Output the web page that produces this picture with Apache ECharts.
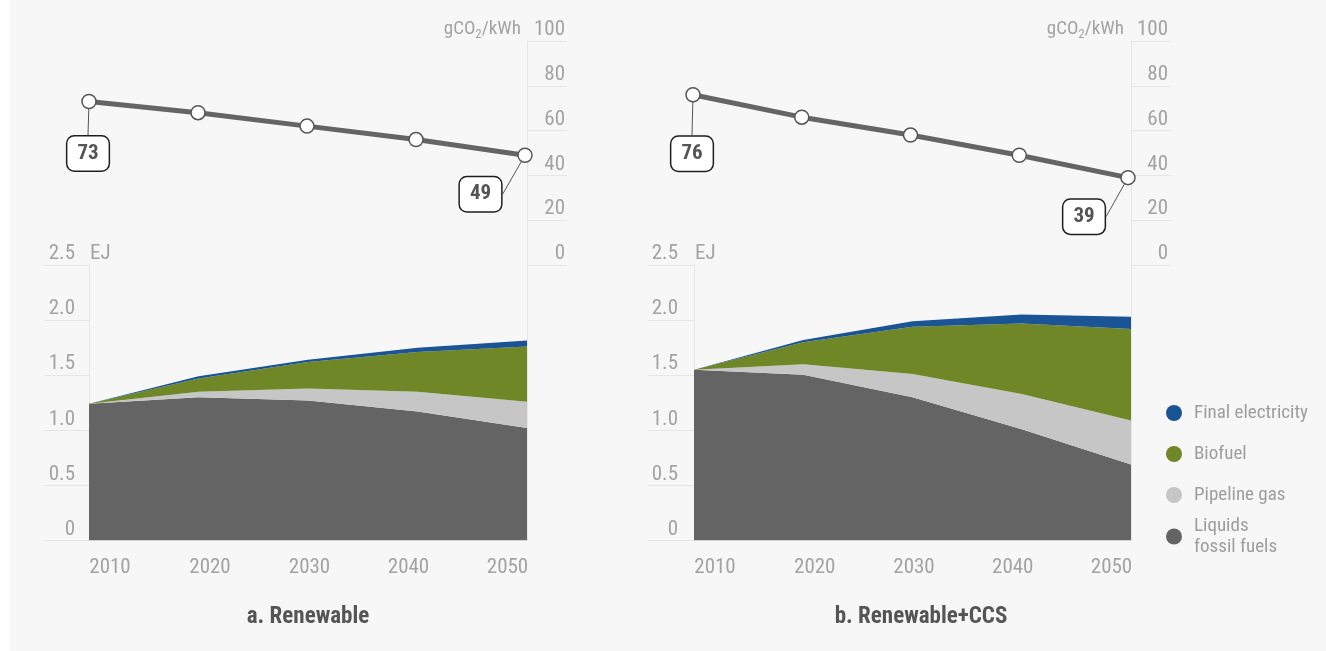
<!DOCTYPE html>
<html>
<head>
<meta charset="utf-8">
<script src="https://cdn.jsdelivr.net/npm/echarts@6/dist/echarts.min.js"></script>
<style>
html,body{margin:0;padding:0;background:#ffffff;}
#c{position:absolute;left:10px;top:0;width:1316px;height:651px;background:#f7f7f7;}
</style>
</head>
<body>
<div id="c"></div>
<script>
// ---------- data ----------
const years = ['2010', '2020', '2030', '2040', '2050'];
const panelTitles = ['a. Renewable', 'b. Renewable+CCS'];
const seriesNames = ['Final electricity', 'Biofuel', 'Pipeline gas', 'Liquids\nfossil fuels'];

// carbon intensity, gCO2/kWh
const intensityRenewable = [73, 68, 62, 56, 49];
const intensityCCS = [76, 66, 58, 49, 39];

// energy, EJ (stacked)
const liquidsRenewable = [1.24, 1.30, 1.27, 1.17, 1.02];
const pipelineRenewable = [0, 0.05, 0.11, 0.18, 0.24];
const biofuelRenewable = [0, 0.12, 0.24, 0.36, 0.50];
const electricityRenewable = [0, 0.02, 0.02, 0.04, 0.055];

const liquidsCCS = [1.55, 1.505, 1.30, 1.01, 0.69];
const pipelineCCS = [0, 0.095, 0.21, 0.32, 0.40];
const biofuelCCS = [0, 0.20, 0.43, 0.64, 0.83];
const electricityCCS = [0, 0.02, 0.05, 0.08, 0.11];

// ---------- styles ----------
const FONT = "'Roboto Condensed','Liberation Sans Narrow','Arial Narrow','DejaVu Sans Condensed',sans-serif";
const LABEL_COLOR = '#a3a3a3';
const RULE_COLOR = '#e6e6e6';
const COLORS = {
  'Final electricity': '#1b5494',
  'Biofuel': '#6f8726',
  'Pipeline gas': '#c6c6c6',
  'Liquids\nfossil fuels': '#646464'
};

const chart = echarts.init(document.getElementById('c'), null, {renderer: 'canvas'});

const xShifts = [21, 11.5, 1.5, -9, -19.5];
const xRich = {};
xShifts.forEach((s, i) => {
  xRich['t' + i] = {
    fontFamily: FONT, fontSize: 21, color: LABEL_COLOR, lineHeight: 21,
    padding: s >= 0 ? [0, 0, 0, 2 * s] : [0, -2 * s, 0, 0]
  };
});

function topAxes(gridIndex, offset, margin) {
  return {
    x: {
      type: 'category', gridIndex, data: years, boundaryGap: false, show: false
    },
    y: {
      type: 'value', gridIndex, position: 'right', offset, min: 0, max: 100, interval: 20,
      name: '{a|gCO}{s|2}{a|/kWh}', nameLocation: 'end', nameGap: 12,
      nameTextStyle: {
        align: 'right', verticalAlign: 'middle', padding: [0, 4 + offset, 0, 0],
        rich: {
          a: {fontFamily: FONT, fontSize: 19, color: LABEL_COLOR},
          s: {fontFamily: FONT, fontSize: 13, color: LABEL_COLOR, verticalAlign: 'bottom', padding: [12, 0, 0, 0]}
        }
      },
      axisLine: {show: true, lineStyle: {color: RULE_COLOR, width: 1}},
      axisTick: {show: true, length: 40, inside: false, lineStyle: {color: RULE_COLOR, width: 1}},
      splitLine: {show: false},
      axisLabel: {
        align: 'right', margin: margin, verticalAlign: 'bottom', padding: [0, 0, 1, 0],
        lineHeight: 20, fontFamily: FONT, fontSize: 21, color: LABEL_COLOR
      }
    }
  };
}

function bottomAxes(gridIndex, tickLen, margin) {
  return {
    x: {
      type: 'category', gridIndex, data: years, boundaryGap: false,
      axisLine: {show: false}, axisTick: {show: false}, splitLine: {show: false},
      axisLabel: {
        margin: 17, formatter: (v, i) => '{t' + i + '|' + v + '}', rich: xRich,
        fontFamily: FONT, fontSize: 21, color: LABEL_COLOR
      }
    },
    y: {
      type: 'value', gridIndex, position: 'left', min: 0, max: 2.5, interval: 0.5,
      name: 'EJ', nameLocation: 'end', nameGap: 11,
      nameTextStyle: {align: 'left', verticalAlign: 'middle', padding: [0, 0, 0, 1], fontFamily: FONT, fontSize: 21, color: LABEL_COLOR},
      axisLine: {show: true, lineStyle: {color: RULE_COLOR, width: 1}},
      axisTick: {show: true, length: tickLen, inside: false, lineStyle: {color: RULE_COLOR, width: 1}},
      splitLine: {show: false},
      axisLabel: {
        margin: margin, verticalAlign: 'bottom', padding: [0, 0, 1, 0], lineHeight: 20,
        fontFamily: FONT, fontSize: 21, color: LABEL_COLOR,
        formatter: v => (v === 0 ? '0' : v.toFixed(1))
      }
    },
    yr: {
      type: 'value', gridIndex, position: 'right', min: 0, max: 2.5, interval: 0.5,
      axisLine: {show: true, lineStyle: {color: RULE_COLOR, width: 1}},
      axisTick: {show: false}, axisLabel: {show: false}, splitLine: {show: false}
    }
  };
}

const tl = topAxes(0, 2, 38);
const bl = bottomAxes(1, 45, 14);
const tr = topAxes(2, 3, 37);
const br = bottomAxes(3, 46, 16);

function intensitySeries(values, xi, yi, firstOffset, lastOffset) {
  const n = values.length;
  return {
    type: 'line', xAxisIndex: xi, yAxisIndex: yi, silent: true, z: 5,
    data: values.map((v, i) => {
      const edge = i === 0 || i === n - 1;
      return {value: v, label: {show: edge}, labelLine: {show: edge}};
    }),
    lineStyle: {color: '#656565', width: 5},
    symbol: 'circle', symbolSize: 14,
    itemStyle: {color: '#ffffff', borderColor: '#555555', borderWidth: 1.5},
    label: {
      position: 'inside', fontFamily: FONT, fontWeight: 'bold', fontSize: 21,
      color: '#555555', backgroundColor: '#ffffff', borderColor: '#1e1e1e', borderWidth: 1.5,
      borderRadius: 7, padding: [7, 10, 6, 10], lineHeight: 21
    },
    labelLine: {show: true, length2: 0, lineStyle: {color: '#555555', width: 1}},
    labelLayout: p => (p.dataIndex === 0 ? firstOffset : lastOffset)
  };
}

function areaSeries(name, values, xi, yi, stack) {
  return {
    type: 'line', name, xAxisIndex: xi, yAxisIndex: yi, stack, silent: true,
    data: values, symbol: 'none', showSymbol: false,
    lineStyle: {width: 0}, itemStyle: {color: COLORS[name]},
    areaStyle: {color: COLORS[name], opacity: 1}
  };
}

const titleStyle = {fontFamily: FONT, fontWeight: 'bold', fontSize: 23, color: '#555555', lineHeight: 24};

const option = {
  animation: false,
  backgroundColor: '#f7f7f7',
  title: [
    {text: panelTitles[0], left: 298, top: 605, textAlign: 'center', padding: 0, textStyle: titleStyle},
    {text: panelTitles[1], left: 911, top: 605, textAlign: 'center', padding: 0, textStyle: titleStyle}
  ],
  legend: [
    {
      data: seriesNames.slice(0, 3), orient: 'vertical', left: 1156, top: 402.5,
      itemGap: 20, itemWidth: 16, itemHeight: 16, icon: 'circle', padding: 0,
      selectedMode: false,
      textStyle: {fontFamily: FONT, fontSize: 19, color: '#9d9d9d', lineHeight: 21, padding: [0, 0, 0, 7]}
    },
    {
      data: seriesNames.slice(3), orient: 'vertical', left: 1156, top: 515.5,
      itemGap: 20, itemWidth: 16, itemHeight: 16, icon: 'circle', padding: 0,
      selectedMode: false,
      textStyle: {fontFamily: FONT, fontSize: 19, color: '#9d9d9d', lineHeight: 21, padding: [0, 0, 0, 7]}
    }
  ],
  grid: [
    {left: 79, top: 41, width: 436, height: 224},
    {left: 79, top: 265, width: 438, height: 275.5},
    {left: 683, top: 41, width: 435, height: 224},
    {left: 684, top: 265, width: 437, height: 275.5}
  ],
  xAxis: [tl.x, bl.x, tr.x, br.x],
  yAxis: [tl.y, bl.y, bl.yr, tr.y, br.y, br.yr],
  series: [
    intensitySeries(intensityRenewable, 0, 0, {dx: -1, dy: 52}, {dx: -44.5, dy: 39}),
    areaSeries(seriesNames[3], liquidsRenewable, 1, 1, 'a'),
    areaSeries(seriesNames[2], pipelineRenewable, 1, 1, 'a'),
    areaSeries(seriesNames[1], biofuelRenewable, 1, 1, 'a'),
    areaSeries(seriesNames[0], electricityRenewable, 1, 1, 'a'),
    intensitySeries(intensityCCS, 2, 3, {dx: -1, dy: 59}, {dx: -44, dy: 39}),
    areaSeries(seriesNames[3], liquidsCCS, 3, 4, 'b'),
    areaSeries(seriesNames[2], pipelineCCS, 3, 4, 'b'),
    areaSeries(seriesNames[1], biofuelCCS, 3, 4, 'b'),
    areaSeries(seriesNames[0], electricityCCS, 3, 4, 'b')
  ]
};

chart.setOption(option);
</script>
</body>
</html>
